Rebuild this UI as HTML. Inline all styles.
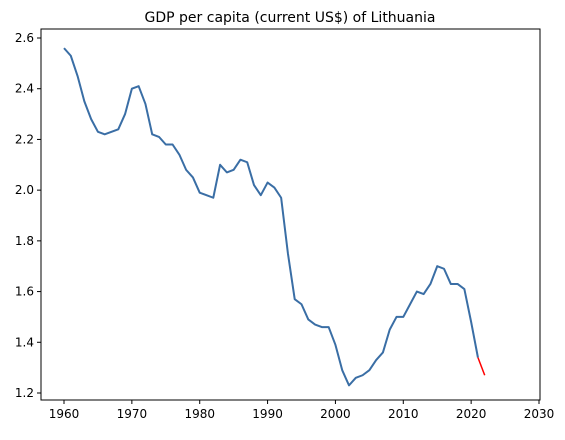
<!DOCTYPE html>
<html><head><meta charset="utf-8"><style>
body{margin:0;background:#fff;font-family:"Liberation Sans","DejaVu Sans",sans-serif}
svg text{font-family:"DejaVu Sans","Liberation Sans",sans-serif}
</style></head><body>
<svg id="c" width="565" height="435" xmlns="http://www.w3.org/2000/svg">
<text x="290" y="22" font-size="14" text-anchor="middle">GDP per capita (current US$) of Lithuania</text>
<rect x="41" y="29" width="499" height="371" fill="none" stroke="#000" stroke-width="1"/>
<g id="ax"></g>
</svg>
<script>
const years=[];for(let y=1960;y<=2022;y++)years.push(y);
const values=[2.56,2.53,2.45,2.35,2.28,2.23,2.22,2.23,2.24,2.30,2.40,2.41,2.34,2.22,2.21,2.18,2.18,2.14,2.08,2.05,1.99,1.98,1.97,2.10,2.07,2.08,2.12,2.11,2.02,1.98,2.03,2.01,1.97,1.75,1.57,1.55,1.49,1.47,1.46,1.46,1.39,1.29,1.23,1.26,1.27,1.29,1.33,1.36,1.45,1.50,1.50,1.55,1.60,1.59,1.63,1.70,1.69,1.63,1.63,1.61,1.48,1.34,1.27];
const xTicks=[1960,1970,1980,1990,2000,2010,2020,2030];
const yTicks=[1.2,1.4,1.6,1.8,2.0,2.2,2.4,2.6];
const X=v=>64+(v-1960)*(539-64)/70;
const Y=v=>393-(v-1.2)*(393-38)/1.4;
const g=document.getElementById('ax');const NS='http://www.w3.org/2000/svg';
function mk(t,a){const e=document.createElementNS(NS,t);for(const k in a)e.setAttribute(k,a[k]);g.appendChild(e);return e;}
xTicks.forEach(t=>{
const l=mk('line',{x1:X(t),x2:X(t),y1:400,y2:404,stroke:'#000'});


const tx=mk('text',{x:X(t),y:418,'font-size':12,'text-anchor':'middle'});tx.textContent=t;


});
yTicks.forEach(t=>{
const l=mk('line',{x1:37,x2:41,y1:Y(t),y2:Y(t),stroke:'#000'});


const tx=mk('text',{x:34,y:Y(t)+4,'font-size':12,'text-anchor':'end'});tx.textContent=t.toFixed(1);


});
const n=values.length;
const red=mk('polyline',{points:[n-2,n-1].map(i=>X(years[i])+','+Y(values[i])).join(' '),fill:'none',stroke:'#ff0000','stroke-width':1.5});


const blue=mk('polyline',{points:values.slice(0,n-1).map((v,i)=>X(years[i])+','+Y(v)).join(' '),fill:'none',stroke:'#3a6ea5','stroke-width':2,'stroke-linejoin':'round'});


</script>
</body></html>
